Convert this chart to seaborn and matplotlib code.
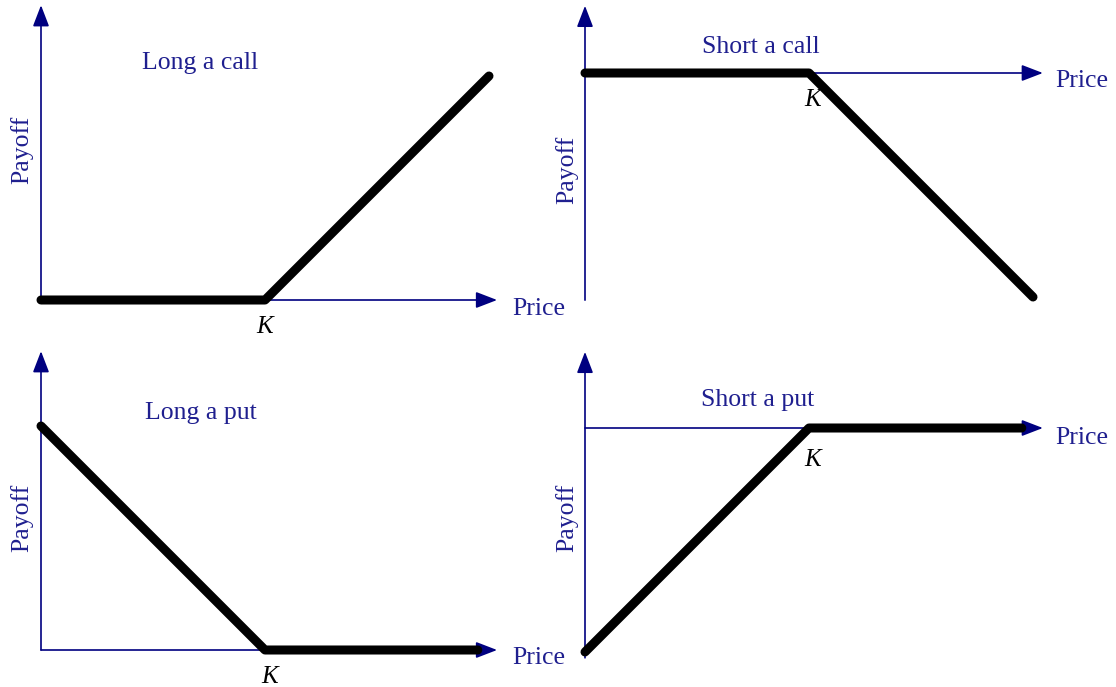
import numpy as np
import pandas as pd
import seaborn as sns
import matplotlib.pyplot as plt

# --- payoff data (price, payoff), strike K = 50
K = 50
price_call = [0, 50, 100]
long_call = [0, 0, 50]
short_call = [0, 0, -50]
price_put = [0, 50, 97.5]
long_put = [50, 0, 0]
short_put = [-50, 0, 0]

titles = ["Long a call", "Short a call", "Long a put", "Short a put"]

sns.set_style("white")
plt.rcParams["font.family"] = ["Liberation Serif", "DejaVu Serif"]

navy = "#000080"
txt = "#1f1f8f"
W, H = 1116, 687
s = 4.48  # px per data unit

fig = plt.figure(figsize=(W / 100, H / 100), dpi=100)

# quadrant (px) and origin (px) of each panel
panels = [
    dict(q=(0, 558, 0, 343.5), o=(41, 300), x=price_call, y=long_call,
         yax=(0, 65.8), xtip=101.8, title=(35.5, 52.9), k=(50, -6.0),
         price=(105.1, -2.0), pay=(-4.2, 33.5)),
    dict(q=(558, 1116, 0, 343.5), o=(585, 73), x=price_call, y=short_call,
         yax=(-50.7, 15.0), xtip=102.2, title=(39.3, 5.8), k=(50.7, -6.0),
         price=(104.9, -1.8), pay=(-4.0, -21.7)),
    dict(q=(0, 558, 343.5, 687), o=(41, 650), x=price_put, y=long_put,
         yax=(0, 66.7), xtip=101.8, title=(35.7, 52.9), k=(51.1, -6.0),
         price=(105.1, -1.8), pay=(-4.2, 29.5)),
    dict(q=(558, 1116, 343.5, 687), o=(585, 428), x=price_put, y=short_put,
         yax=(-51.3, 17.0), xtip=102.2, title=(38.6, 6.2), k=(50.7, -7.1),
         price=(104.9, -2.3), pay=(-4.0, -20.1)),
]

arrow = dict(arrowstyle="-|>,head_length=0.65,head_width=0.25", color=navy,
             lw=1.2, shrinkA=0, shrinkB=0, mutation_scale=20)

for p, title in zip(panels, titles):
    qx0, qx1, qy0, qy1 = p["q"]
    ox, oy = p["o"]
    ax = fig.add_axes([qx0 / W, 1 - qy1 / H, (qx1 - qx0) / W, (qy1 - qy0) / H])
    ax.set_xlim((qx0 - ox) / s, (qx1 - ox) / s)
    ax.set_ylim((oy - qy1) / s, (oy - qy0) / s)
    ax.axis("off")

    # axes arrows
    ax.annotate("", xy=(0, p["yax"][1]), xytext=(0, p["yax"][0]), arrowprops=arrow)
    ax.annotate("", xy=(p["xtip"], 0), xytext=(0, 0), arrowprops=arrow)

    df = pd.DataFrame({"Price": p["x"], "Payoff": p["y"]})
    sns.lineplot(data=df, x="Price", y="Payoff", ax=ax, color="black",
                 linewidth=6.5, estimator=None, sort=False,
                 solid_capstyle="round", zorder=3)
    ax.axis("off")

    ax.text(*p["title"], title, color=txt, fontsize=18.5, ha="center", va="center")
    ax.text(*p["k"], "K", color="black", fontsize=18, style="italic",
            ha="center", va="center")
    ax.text(*p["price"], "Price", color=txt, fontsize=18.5, ha="left", va="center")
    ax.text(*p["pay"], "Payoff", color=txt, fontsize=18.5, rotation=90,
            ha="center", va="center")

plt.savefig("out.png", dpi=100)
